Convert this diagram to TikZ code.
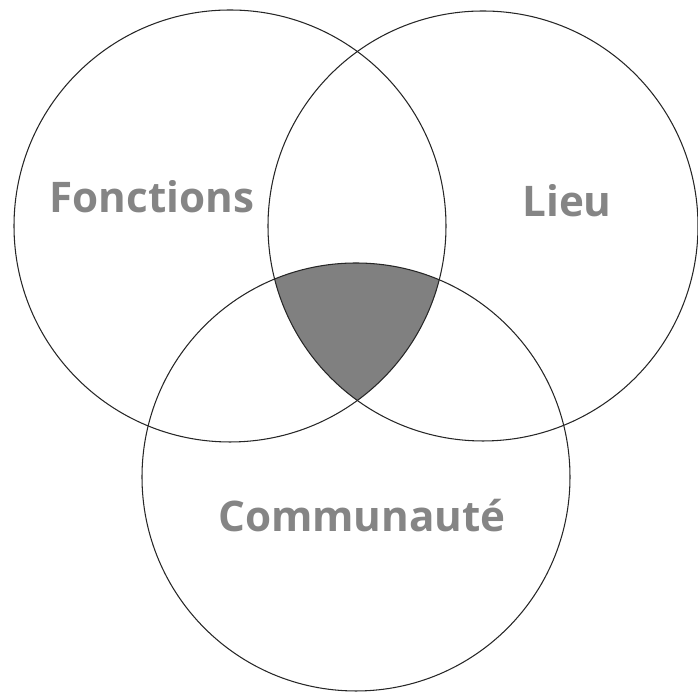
\documentclass[tikz,border=0pt]{standalone}
\usepackage{fontspec}
\setmainfont{Open Sans}
\begin{document}
\begin{tikzpicture}[
    x=0.02cm, y=0.02cm,
    ring/.style={draw=black!85, line width=0.6pt},
    core/.style={fill=black!50},
    lbl/.style={font=\fontsize{24}{28}\selectfont\bfseries, text=black!48, anchor=base, inner sep=0pt}
  ]
  \useasboundingbox (0,0) rectangle (698,692);

  % centres of the three sets
  \coordinate (fct) at (230, 466);
  \coordinate (lieu) at (483, 466);
  \coordinate (comm) at (356, 215);

  % shaded common part
  \begin{scope}
    \clip (fct) circle (216);
    \clip (lieu) circle (215);
    \fill[core] (comm) circle (214);
  \end{scope}

  % circles
  \draw[ring] (fct) circle (216);
  \draw[ring] (lieu) circle (215);
  \draw[ring] (comm) circle (214);

  % labels
  \node[lbl] (fctlbl) at (152, 479) {Fonctions};
  \node[lbl] (lieulbl) at (567, 475) {Lieu};
  \node[lbl] (commlbl) at (362, 160) {Communauté};

\end{tikzpicture}
\end{document}
